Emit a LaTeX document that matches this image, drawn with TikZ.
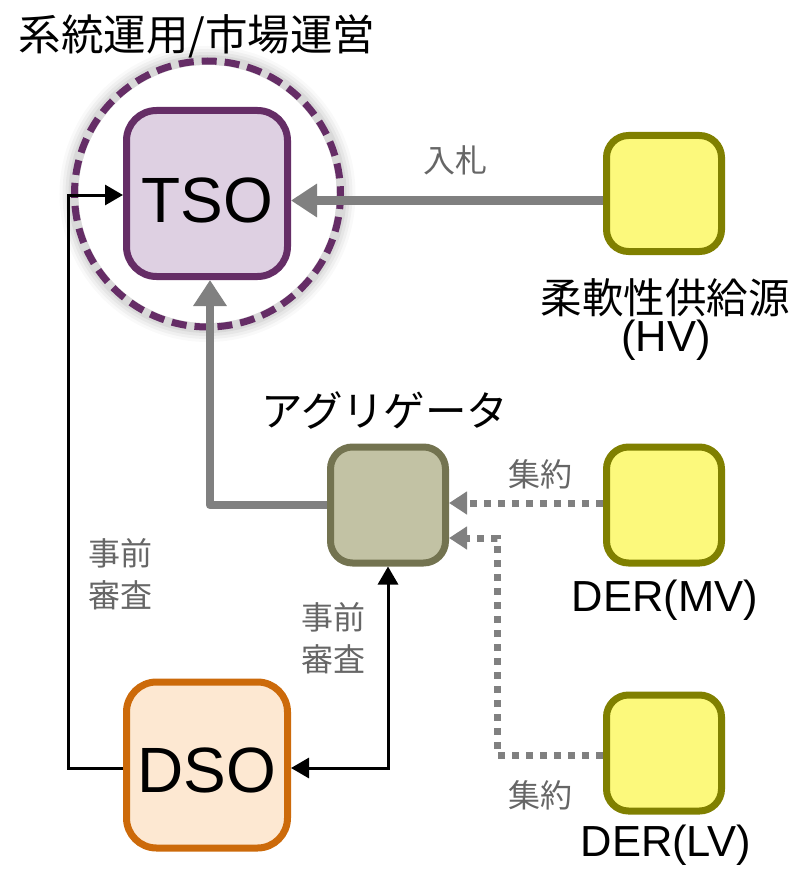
\documentclass[tikz,border=0pt]{standalone}
\usepackage{fontspec}
\setmainfont{Liberation Sans}
\newfontfamily\jp{Noto Sans CJK JP}
\usetikzlibrary{arrows.meta,calc}
\definecolor{purpfill}{HTML}{DED0E2}
\definecolor{purpline}{HTML}{652D66}
\definecolor{oliveline}{HTML}{737350}
\definecolor{olivefill}{HTML}{C2C2A4}
\definecolor{yelfill}{HTML}{FCF97C}
\definecolor{yelline}{HTML}{808000}
\definecolor{orfill}{HTML}{FDE8D2}
\definecolor{orline}{HTML}{CC6A0A}
\definecolor{gline}{HTML}{808080}
\definecolor{gtext}{HTML}{666666}
\begin{document}
\begin{tikzpicture}[x=1pt,y=-1pt,
  bigbox/.style={draw, line width=7pt, rounded corners=30pt, minimum width=161pt, minimum height=166pt, inner sep=0pt},
  smallbox/.style={draw, line width=7pt, rounded corners=22pt, minimum width=115pt, minimum height=116pt, inner sep=0pt},
  boxtext/.style={font=\fontsize{64}{70}\selectfont, inner sep=0pt},
  jplabel/.style={font=\jp\fontsize{41.5}{42}\selectfont, inner sep=0pt, align=center},
  latlabel/.style={font=\fontsize{43.5}{45}\selectfont, inner sep=0pt},
  glabel/.style={font=\jp\fontsize{32}{42}\selectfont, text=gtext, inner sep=0pt, align=center},
  garrow/.style={draw=gline, line width=8.5pt, line join=round, -{Triangle[length=26pt,width=32pt]}},
  darrow/.style={draw=gline, line width=7pt, dash pattern=on 7pt off 7pt, -{Triangle[length=18pt,width=22pt]}},
  barrow/.style={draw=black, line width=3pt, -{Triangle[length=18pt,width=20pt]}}
]
\useasboundingbox (0,0) rectangle (796,869);

% glow around circle
\foreach \w/\o in {30/0.025,24/0.035,18/0.045,12/0.055}{
  \draw[line width=\w pt, black, opacity=\o] (207.5,194) circle (133);
}
\fill[white] (207.5,194) circle (129);
\draw[purpline, line width=7pt, dash pattern=on 15pt off 8pt] (207.5,194) circle (133);

\node[jplabel, font=\jp\fontsize{42.5}{44}\selectfont] (title) at (197,36) {系統運用/市場運営};

\node[bigbox, draw=purpline, fill=purpfill] (tso) at (207,193.5) {};
\node[boxtext] (tsot) at ([yshift=-7pt]tso.center) {TSO};
\node[bigbox, draw=orline, fill=orfill] (dso) at (207,765) {};
\node[boxtext] (dsot) at ([yshift=-5pt]dso.center) {DSO};
\node[smallbox, draw=oliveline, fill=olivefill] (agg) at (388,505) {};
\node[smallbox, draw=yelline, fill=yelfill] (hv) at (664,193.5) {};
\node[smallbox, draw=yelline, fill=yelfill] (mv) at (664,505) {};
\node[smallbox, draw=yelline, fill=yelfill] (lv) at (664,753) {};

\node[jplabel] (hvl1) at (665,298) {柔軟性供給源};
\node[latlabel] (hvl2) at (666,340) {(HV)};
\node[jplabel] (aggl) at (385,410) {アグリゲータ};
\node[latlabel] (mvl) at (665,600) {DER(MV)};
\node[latlabel] (lvl) at (666,845) {DER(LV)};

\node[glabel] (bid) at (455,160) {入札};
\node[glabel] (agr1) at (540,474) {集約};
\node[glabel] (agr2) at (540,795) {集約};
\node[glabel] (pre1) at (120,574) {事前\\審査};
\node[glabel] (pre2) at (333,638) {事前\\審査};

% connectors
\draw[garrow] ([yshift=-7pt]hv.west) -- ([yshift=-7pt]tso.east);
\draw[garrow] (agg.west) -| ([xshift=3pt]tso.south);
\draw[darrow] ([yshift=2pt]mv.west) -- ([yshift=2pt]agg.east);
\draw[darrow] ([yshift=-2pt]lv.west) -| ([xshift=48pt,yshift=-33pt]agg.east) -- ([yshift=-33pt]agg.east);
\draw[barrow, {Triangle[length=18pt,width=20pt]}-{Triangle[length=18pt,width=20pt]}] (agg.south) |- ([yshift=-3pt]dso.east);
\coordinate (lbend) at (68,768);
\draw[barrow] ([yshift=-3pt]dso.west) -- (lbend) |- ([yshift=-1.5pt]tso.west);
\end{tikzpicture}
\end{document}
